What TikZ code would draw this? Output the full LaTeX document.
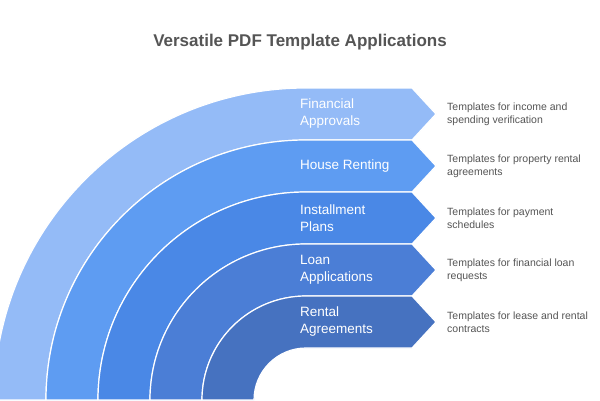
\documentclass[tikz,border=0pt]{standalone}
\usepackage{fontspec}
\setmainfont{Liberation Sans}
\definecolor{cA}{HTML}{94BBF7}
\definecolor{cB}{HTML}{5E9CF2}
\definecolor{cC}{HTML}{4A88E6}
\definecolor{cD}{HTML}{4B7ED6}
\definecolor{cE}{HTML}{4672C0}
\definecolor{tg}{HTML}{555555}
\begin{document}
\begin{tikzpicture}[x=1pt,y=1pt,
  band/.style={draw=white,line width=1.2pt,line join=round},
  lab/.style={anchor=west,text=white,font=\fontsize{13.5}{17}\selectfont,align=left,inner sep=0},
  desc/.style={anchor=west,text=tg,font=\fontsize{10.5}{13}\selectfont,align=left,inner sep=0}]
\useasboundingbox (0,0) rectangle (600,400);
\fill[white] (0,0) rectangle (600,400);
\begin{scope}
\clip (0,0) rectangle (600,400);
\foreach \R/\c in {312/cA,260/cB,208/cC,156/cD,104/cE}{
  \pgfmathsetmacro{\r}{\R-52}
  \pgfmathsetmacro{\m}{\R-26}
  \fill[\c,band] (306-\R,0) arc[start angle=180,end angle=90,radius=\R] -- (412,\R) -- (436,\m) -- (412,\r) -- (306,\r) arc[start angle=90,end angle=180,radius=\r] -- cycle;
}
\end{scope}
\node[font=\bfseries\fontsize{17}{20}\selectfont,text=tg] (title) at (300,358) {Versatile PDF Template Applications};
\node[lab] (l1) at (300,286) {Financial\\Approvals};
\node[lab] (l2) at (300,234) {House Renting};
\node[lab] (l3) at (300,182) {Installment\\Plans};
\node[lab] (l4) at (300,130) {Loan\\Applications};
\node[lab] (l5) at (300,78) {Rental\\Agreements};
\node[desc] (d1) at (447,286) {Templates for income and\\spending verification};
\node[desc] (d2) at (447,234) {Templates for property rental\\agreements};
\node[desc] (d3) at (447,182) {Templates for payment\\schedules};
\node[desc] (d4) at (447,130) {Templates for financial loan\\requests};
\node[desc] (d5) at (447,78) {Templates for lease and rental\\contracts};
\end{tikzpicture}
\end{document}
